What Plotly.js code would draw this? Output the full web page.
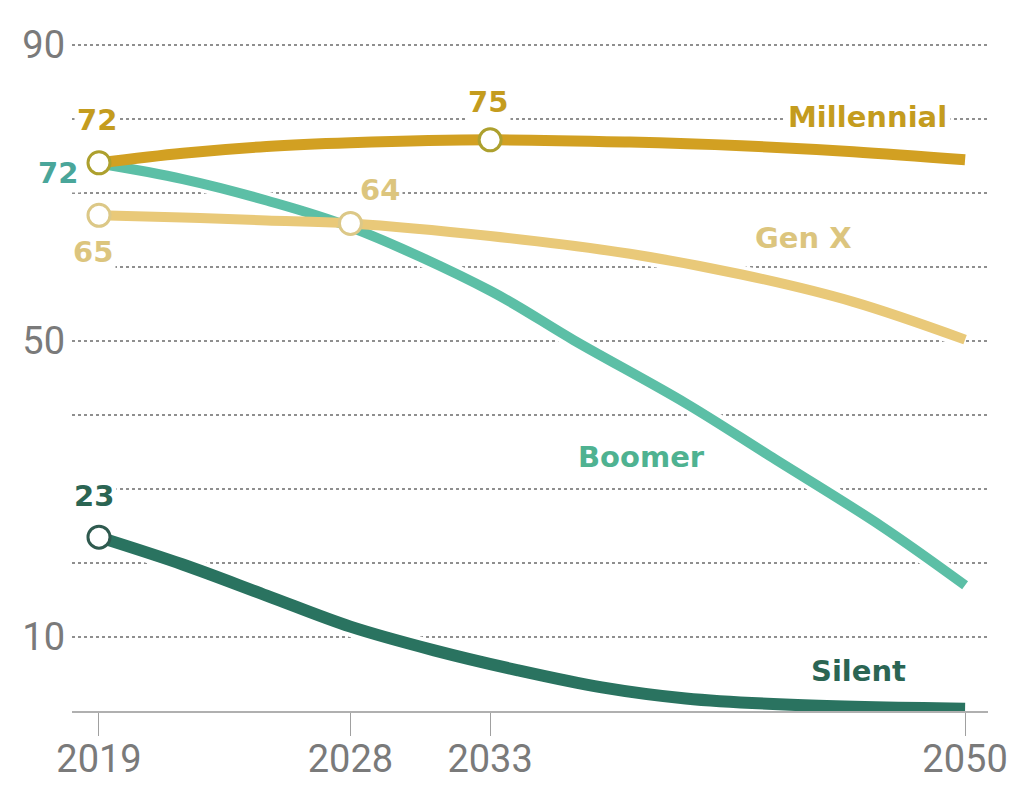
<!DOCTYPE html>
<html>
<head>
<meta charset="utf-8">
<script src="https://cdn.plot.ly/plotly-3.0.1.min.js"></script>
<style>html,body{margin:0;padding:0;background:#fff}#chart{width:1023px;height:810px}</style>
</head>
<body>
<div id="chart"></div>
<script>
// Data
const milYears = [2019, 2022, 2025, 2028, 2033, 2038, 2042, 2046, 2050];
const millennial = [74.1, 75.4, 76.3, 76.8, 77.2, 76.9, 76.4, 75.6, 74.5];
const genXYears = [2019, 2022, 2025, 2028, 2033, 2038, 2042, 2046, 2050];
const genX = [67.0, 66.7, 66.3, 65.9, 64.2, 61.8, 59.0, 55.3, 50.2];
const boomerYears = [2019, 2022, 2025, 2028, 2033, 2036, 2040, 2043, 2047, 2050];
const boomer = [74.0, 71.9, 69.0, 65.4, 56.8, 50.1, 41.6, 34.5, 25.0, 17.0];
const silentYears = [2019, 2022, 2025, 2028, 2031, 2034, 2037, 2040, 2044, 2050];
const silent = [23.5, 19.8, 15.6, 11.4, 8.2, 5.5, 3.2, 1.7, 0.8, 0.3];

const seriesNames = ['Millennial', 'Gen X', 'Boomer', 'Silent'];
const xTickVals = [2019, 2028, 2033, 2050];
const yGridVals = [10, 20, 30, 40, 50, 60, 70, 80, 90];
const yTickText = ['10', '', '', '', '50', '', '', '', '90'];

// highlighted points and their labels
const milPoints = [2019, 2033];
const milLabels = ['72', '75'];
const genXPoints = [2019, 2028];
const genXLabels = ['65', '64'];
const silentPoints = [2019];
const silentLabels = ['23'];
const boomerStartLabel = '72';

const C = {
  mil: '#D2A022', milText: '#C49C1E', milMk: '#ADA02E',
  gx: '#E9C979', gxText: '#DCC57E', gxMk: '#DCC887',
  bo: '#5CBFA6', boText: '#4FB291', boNum: '#4AA69A',
  si: '#2A7360', siText: '#2B6553', siMk: '#2F5A4F'
};

const valAt = (xs, ys, yr) => ys[xs.indexOf(yr)];

const sets = [
  {x: silentYears, y: silent, c: C.si, w: 12},
  {x: boomerYears, y: boomer, c: C.bo, w: 10},
  {x: genXYears, y: genX, c: C.gx, w: 10},
  {x: milYears, y: millennial, c: C.mil, w: 11}
];
const traces = [];
sets.forEach(s => traces.push({x: s.x, y: s.y, mode: 'lines', line: {color: '#fff', width: s.w + 8, shape: 'spline', smoothing: 1}, hoverinfo: 'skip', cliponaxis: false}));
sets.forEach(s => traces.push({x: s.x, y: s.y, mode: 'lines', line: {color: s.c, width: s.w, shape: 'spline', smoothing: 1}, hoverinfo: 'skip', cliponaxis: false}));

function mk(xs, ys, yrs, col) {
  return {x: yrs, y: yrs.map(yr => valAt(xs, ys, yr)), mode: 'markers', cliponaxis: false, hoverinfo: 'skip',
    marker: {size: 22, color: '#fff', line: {color: col, width: 3}}};
}
traces.push(mk(silentYears, silent, silentPoints, C.siMk));
traces.push(mk(genXYears, genX, genXPoints, C.gxMk));
traces.push(mk(milYears, millennial, milPoints, C.milMk));

const bold = (size, color) => ({family: 'DejaVu Sans', size: size, color: color, weight: 'bold'});

const ann = [];
function ptLabel(xs, ys, yr, text, col, dx, dy) {
  ann.push({x: yr, y: valAt(xs, ys, yr), xref: 'x', yref: 'y', text: text, showarrow: false,
    xshift: dx, yshift: dy, font: bold(29, col), bgcolor: '#fff', borderpad: 2});
}
ptLabel(milYears, millennial, milPoints[0], milLabels[0], C.milText, -2, 43);
ptLabel(milYears, millennial, milPoints[1], milLabels[1], C.milText, -2, 38);
ptLabel(boomerYears, boomer, 2019, boomerStartLabel, C.boNum, -41, -9);
ptLabel(genXYears, genX, genXPoints[0], genXLabels[0], C.gxText, -6, -37);
ptLabel(genXYears, genX, genXPoints[1], genXLabels[1], C.gxText, 30, 33);
ptLabel(silentYears, silent, silentPoints[0], silentLabels[0], C.siText, -5, 41);

function nameLabel(text, x, y, col) {
  ann.push({x: x, y: y, xref: 'x', yref: 'y', text: text, showarrow: false, font: bold(29, col), bgcolor: '#fff', borderpad: 3});
}
nameLabel(seriesNames[0], 2046.5, 80.3, C.milText);
nameLabel(seriesNames[1], 2044.2, 64.0, C.gxText);
nameLabel(seriesNames[2], 2038.4, 34.3, C.boText);
nameLabel(seriesNames[3], 2046.2, 5.4, C.siText);

const layout = {
  width: 1023, height: 810,
  margin: {l: 72, r: 35, t: 20, b: 99},
  paper_bgcolor: '#fff', plot_bgcolor: '#fff',
  showlegend: false, hovermode: false,
  xaxis: {
    range: [2018.034, 2050.82], tickvals: xTickVals, ticktext: xTickVals.map(String),
    showgrid: false, zeroline: false, showline: true, linecolor: '#b0b0b0', linewidth: 2,
    ticks: 'outside', ticklen: 23, tickwidth: 1, tickcolor: '#a0a0a0', ticklabelstandoff: -10,
    tickfont: {family: 'Roboto', size: 38, color: '#7a7a7a'}, fixedrange: true
  },
  yaxis: {
    range: [0, 93.4], tickvals: yGridVals, ticktext: yTickText,
    showgrid: true, gridcolor: '#8f8f8f', gridwidth: 1.6, griddash: 'dot',
    zeroline: false, showline: false, ticks: '',
    tickfont: {family: 'Roboto', size: 38, color: '#7a7a7a'}, ticklabelstandoff: 6, fixedrange: true
  },
  annotations: ann
};

Plotly.newPlot('chart', traces, layout, {displayModeBar: false, staticPlot: true});
</script>
</body>
</html>
